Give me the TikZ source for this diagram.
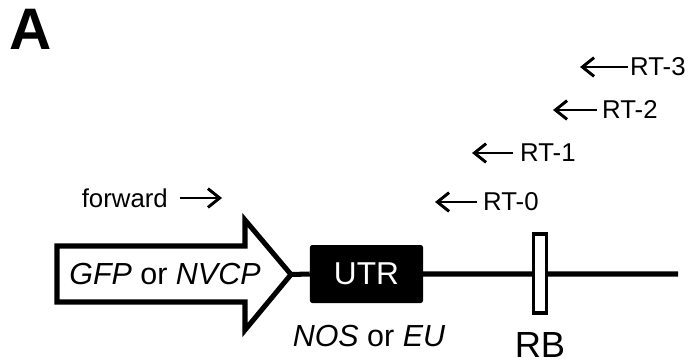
\documentclass[tikz,border=0pt]{standalone}
\usepackage{fontspec}
\setmainfont{Liberation Sans}
\usetikzlibrary{arrows.meta}

\tikzset{
  primer/.style={line width=2.5pt,-{Straight Barb[length=10pt,width=16pt,line width=2.5pt]}},
  small/.style={font=\fontsize{22}{22}\selectfont, inner sep=0pt},
  big/.style={font=\fontsize{26}{26}\selectfont, inner sep=0pt},
}

\begin{document}
\begin{tikzpicture}[x=0.03cm,y=-0.03cm]
\useasboundingbox (0,0) rectangle (691,364);

% panel letter
\node[font=\fontsize{50}{50}\selectfont\bfseries, anchor=base west, inner sep=0pt] (panel) at (9,50) {A};

% ---- coding region as a big open arrow
\draw[line width=4.3pt, line join=miter] (57,246) -- (245,246) -- (245,220) -- (291,274.5) -- (245,330) -- (245,302) -- (57,302) -- cycle;
\coordinate (tip) at (291,274.5);
\node[big] (cds) at (165,274) {\textit{GFP} or \textit{NVCP}};

% ---- UTR box and the rest of the construct
\node[fill=black, rounded corners=2pt, minimum width=3.39cm, minimum height=1.74cm, text=white, font=\fontsize{27}{27}\selectfont] (utr) at (366.5,274) {UTR};
\coordinate (lineend) at (678,274);
\draw[line width=4.3pt] (tip) -- (utr.west) (utr.east) -- (lineend);
\node[draw, fill=white, line width=3.4pt, minimum width=0.39cm, minimum height=2.37cm, inner sep=0pt] (rb) at (540,273.5) {};

% labels under the construct
\node[big] (utrname) at (369,336) {\textit{NOS} or \textit{EU}};
\node[font=\fontsize{31}{31}\selectfont, inner sep=0pt] (rbname) at (540,345) {RB};

% ---- primers
\node[small, anchor=east] (fwd) at (168,198) {forward};
\coordinate (fwdend) at (222,198);
\draw[primer] ([xshift=10pt]fwd.east) -- (fwdend);

\node[small, anchor=west] (rt0) at (483,202) {RT-0};
\coordinate (rt0end) at (435,202);
\draw[primer] ([xshift=-5pt]rt0.west) -- (rt0end);

\node[small, anchor=west] (rt1) at (520,153) {RT-1};
\coordinate (rt1end) at (472,153);
\draw[primer] ([xshift=-6pt]rt1.west) -- (rt1end);

\node[small, anchor=west] (rt2) at (602,110) {RT-2};
\coordinate (rt2end) at (553,110);
\draw[primer] ([xshift=-4pt]rt2.west) -- (rt2end);

\node[small, anchor=west] (rt3) at (630,67) {RT-3};
\coordinate (rt3end) at (580,67);
\draw[primer] ([xshift=-2pt]rt3.west) -- (rt3end);

\end{tikzpicture}
\end{document}
